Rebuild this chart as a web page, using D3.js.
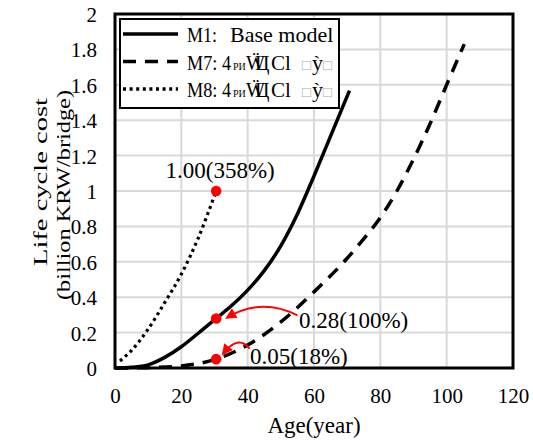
<!DOCTYPE html>
<html><head><meta charset="utf-8">
<script src="https://cdn.jsdelivr.net/npm/d3@7"></script>
<style>
body{margin:0;background:#fff;}
text{font-family:"Liberation Serif","Times New Roman",serif;fill:#000;}
</style></head>
<body><svg id="chart" width="533" height="442"></svg>
<script>
// ---- data ----
const xTicks = [0, 20, 40, 60, 80, 100, 120];
const yTicks = [0, 0.2, 0.4, 0.6, 0.8, 1, 1.2, 1.4, 1.6, 1.8, 2];
const yTickLabels = ["0", "0.2", "0.4", "0.6", "0.8", "1", "1.2", "1.4", "1.6", "1.8", "2"];

const m1Age  = [0, 5, 10, 15, 20, 25, 30.5, 35, 40, 45, 50, 55, 60, 65, 70.7];
const m1Cost = [0, 0.004, 0.018, 0.06, 0.12, 0.195, 0.28, 0.35, 0.44, 0.55, 0.69, 0.87, 1.085, 1.31, 1.567];

const m7Age  = [0, 10, 20, 30.5, 40, 50, 60, 70, 75, 80, 85, 90, 95, 100, 105.3];
const m7Cost = [0, 0.002, 0.012, 0.05, 0.13, 0.26, 0.43, 0.62, 0.73, 0.85, 1.0, 1.18, 1.38, 1.6, 1.83];

const m8Age  = [1.5, 5, 10, 15, 20, 25, 30.5];
const m8Cost = [0.04, 0.1, 0.22, 0.37, 0.53, 0.73, 1.0];

const markAge = 30.5;
const markCost = [1.0, 0.28, 0.05];
const markLabels = ["1.00(358%)", "0.28(100%)", "0.05(18%)"];

const legendNames = ["M1", "M7", "M8"];

// ---- layout ----
const svg = d3.select("#chart");
const x = d3.scaleLinear().domain([0, 120]).range([115, 513]);
const y = d3.scaleLinear().domain([0, 2]).range([368, 14]);

// grid
const grid = svg.append("g");
grid.selectAll("line.v").data(xTicks.slice(1, -1)).join("line")
  .attr("x1", d => x(d)).attr("x2", d => x(d)).attr("y1", y(0)).attr("y2", y(2))
  .attr("stroke", "#d9d9d9").attr("stroke-width", 2);
grid.selectAll("line.h").data(yTicks.slice(1, -1)).join("line")
  .attr("x1", x(0)).attr("x2", x(120)).attr("y1", d => y(d)).attr("y2", d => y(d))
  .attr("stroke", "#d9d9d9").attr("stroke-width", 2);

// axes (labels only)
const xAxis = d3.axisBottom(x).tickValues(xTicks).tickSize(0).tickPadding(0);
const gx = svg.append("g").attr("transform", `translate(0,${y(0)})`).call(xAxis)
  .attr("font-family", null).attr("font-size", null);
gx.select(".domain").remove();
gx.selectAll("text").attr("font-size", 21).attr("fill", "#000").attr("dy", null).attr("y", 35);

const yAxis = d3.axisLeft(y).tickValues(yTicks).tickFormat((d, i) => yTickLabels[i]).tickSize(0).tickPadding(0);
const gy = svg.append("g").attr("transform", `translate(97,0)`).call(yAxis)
  .attr("font-family", null).attr("font-size", null);
gy.select(".domain").remove();
gy.selectAll("text").attr("font-size", 21).attr("fill", "#000").attr("dy", "0.36em").attr("x", 0);

// lines
const line = d3.line().x(d => x(d[0])).y(d => y(d[1])).curve(d3.curveMonotoneX);
const zip = (a, b) => a.map((v, i) => [v, b[i]]);
svg.append("path").attr("d", line(zip(m1Age, m1Cost))).attr("fill", "none")
  .attr("stroke", "#000").attr("stroke-width", 3.5);
svg.append("path").attr("d", line(zip(m7Age, m7Cost))).attr("fill", "none")
  .attr("stroke", "#000").attr("stroke-width", 3.5).attr("stroke-dasharray", "13,9");
svg.append("path").attr("d", line(zip(m8Age, m8Cost))).attr("fill", "none")
  .attr("stroke", "#000").attr("stroke-width", 3.2).attr("stroke-dasharray", "3,3.6");

// frame
svg.append("rect").attr("x", x(0)).attr("y", y(2)).attr("width", x(120) - x(0)).attr("height", y(0) - y(2))
  .attr("fill", "none").attr("stroke", "#000").attr("stroke-width", 3);

// red markers
svg.selectAll("circle.mk").data(markCost).join("circle")
  .attr("cx", x(markAge)).attr("cy", d => y(d)).attr("r", 5.3).attr("fill", "#ff0000");

// arrows (data coords: start, control, end)
const arrows = [
  [[55.0, 0.297], [44.1, 0.4], [33.8, 0.285]],
  [[40.6, 0.11], [37.1, 0.19], [32.6, 0.082]]
];
svg.append("defs").append("marker").attr("id", "ah").attr("viewBox", "0 0 10 10")
  .attr("refX", 8).attr("refY", 5).attr("markerWidth", 6).attr("markerHeight", 5.5)
  .attr("orient", "auto").attr("markerUnits", "strokeWidth")
  .append("path").attr("d", "M0,0 L10,5 L0,10 Z").attr("fill", "#ff0000");
svg.selectAll("path.arr").data(arrows).join("path")
  .attr("d", d => `M${x(d[0][0])},${y(d[0][1])} Q${x(d[1][0])},${y(d[1][1])} ${x(d[2][0])},${y(d[2][1])}`)
  .attr("fill", "none").attr("stroke", "#ff0000").attr("stroke-width", 2).attr("marker-end", "url(#ah)");

// annotation labels
svg.append("text").attr("x", x(markAge) + 4).attr("y", 178).attr("text-anchor", "middle")
  .attr("font-size", 23).text(markLabels[0]);
svg.append("text").attr("x", 299).attr("y", 328).attr("font-size", 23).text(markLabels[1]);
svg.append("text").attr("x", 250).attr("y", 364).attr("font-size", 23).text(markLabels[2]);

// axis titles
svg.append("text").attr("x", 314).attr("y", 433).attr("text-anchor", "middle").attr("font-size", 23).text("Age(year)");
svg.append("text").attr("transform", "translate(47,182) rotate(-90)").attr("text-anchor", "middle")
  .attr("font-size", 19.5).attr("textLength", 168).attr("lengthAdjust", "spacingAndGlyphs").text("Life cycle cost");
svg.append("text").attr("transform", "translate(70,195) rotate(-90)").attr("text-anchor", "middle")
  .attr("font-size", 19.5).attr("textLength", 210).attr("lengthAdjust", "spacingAndGlyphs").text("(billion KRW/bridge)");

// legend
const lg = svg.append("g");
lg.append("rect").attr("x", 120).attr("y", 19).attr("width", 219).attr("height", 89)
  .attr("fill", "#fff").attr("stroke", "#000").attr("stroke-width", 2);
const rowsY = [34, 61.5, 89];
const dashes = [null, "13,9", "3,3.6"];
legendNames.forEach((n, i) => {
  lg.append("line").attr("x1", 123).attr("x2", 178).attr("y1", rowsY[i]).attr("y2", rowsY[i])
    .attr("stroke", "#000").attr("stroke-width", 3.5).attr("stroke-dasharray", dashes[i]);
  const t = lg.append("text").attr("y", rowsY[i] + 8).attr("font-size", 22);
  if (i === 0) {
    t.append("tspan").attr("x", 187).attr("textLength", 30).attr("lengthAdjust", "spacingAndGlyphs").text(n + ":");
    t.append("tspan").attr("x", 230).text("Base model");
  } else {
    t.append("tspan").attr("x", 187).attr("textLength", 44).attr("lengthAdjust", "spacingAndGlyphs").text(n + ": 4");
    t.append("tspan").attr("x", 233).attr("font-size", 10).text("РИ");
    t.append("tspan").attr("x", 246).attr("font-size", 20).attr("letter-spacing", -10).text("ẄЦ");
    t.append("tspan").attr("x", 271).attr("font-size", 21).text("Cl");
    t.append("tspan").attr("x", 302).attr("fill", "#aaa").attr("font-size", 15).text("□");
    t.append("tspan").attr("x", 312).text("ỳ");
    t.append("tspan").attr("x", 323).attr("fill", "#aaa").attr("font-size", 15).text("□");
  }
});
</script></body></html>
